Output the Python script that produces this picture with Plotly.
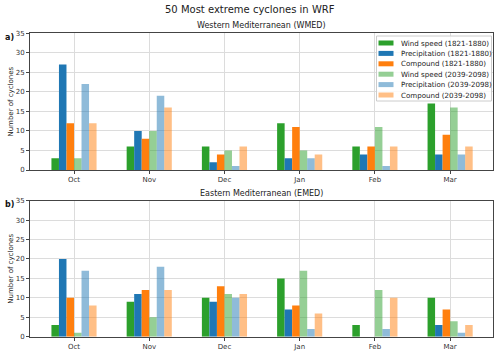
import plotly.graph_objects as go

months = ["Oct", "Nov", "Dec", "Jan", "Feb", "Mar"]
series_names = ["Wind speed (1821-1880)", "Precipitation (1821-1880)", "Compound (1821-1880)",
                "Wind speed (2039-2098)", "Precipitation (2039-2098)", "Compound (2039-2098)"]
series_colors = ["#2ca02c", "#1f77b4", "#ff7f0e",
                 "rgba(44,160,44,0.5)", "rgba(31,119,180,0.5)", "rgba(255,127,14,0.5)"]

# Western Mediterranean (WMED)
wmed_wind_hist = [3, 6, 6, 12, 6, 17]
wmed_prec_hist = [27, 10, 2, 3, 4, 4]
wmed_comp_hist = [12, 8, 4, 11, 6, 9]
wmed_wind_fut = [3, 10, 5, 5, 11, 16]
wmed_prec_fut = [22, 19, 1, 3, 1, 4]
wmed_comp_fut = [12, 16, 6, 4, 6, 6]

# Eastern Mediterranean (EMED)
emed_wind_hist = [3, 9, 10, 15, 3, 10]
emed_prec_hist = [20, 11, 9, 7, 0, 3]
emed_comp_hist = [10, 12, 13, 8, 0, 7]
emed_wind_fut = [1, 5, 11, 17, 12, 4]
emed_prec_fut = [17, 18, 10, 2, 2, 1]
emed_comp_fut = [8, 12, 11, 6, 10, 3]

yticks = [0, 5, 10, 15, 20, 25, 30, 35]

wmed = [wmed_wind_hist, wmed_prec_hist, wmed_comp_hist, wmed_wind_fut, wmed_prec_fut, wmed_comp_fut]
emed = [emed_wind_hist, emed_prec_hist, emed_comp_hist, emed_wind_fut, emed_prec_fut, emed_comp_fut]

W, H = 500, 354
def px(v):
    return v / W
def py(v):
    return 1 - v / H

fig = go.Figure()
for i in range(6):
    fig.add_trace(go.Bar(x=months, y=wmed[i], name=series_names[i], marker_color=series_colors[i],
                         marker_line_width=0, xaxis="x", yaxis="y", showlegend=False))
for i in range(6):
    fig.add_trace(go.Bar(x=months, y=emed[i], name=series_names[i], marker_color=series_colors[i],
                         marker_line_width=0, xaxis="x2", yaxis="y2", showlegend=False))

axis_common = dict(showline=True, mirror=True, linecolor="#444", linewidth=1,
                   showgrid=True, gridcolor="#dcdcdc", gridwidth=1,
                   ticks="outside", ticklen=3, tickcolor="#444",
                   tickfont=dict(family="DejaVu Sans", size=7, color="#333"),
                   zeroline=False, automargin=False)

xd = [px(30), px(493)]
fig.update_layout(
    width=W, height=H,
    margin=dict(l=0, r=0, t=0, b=0),
    paper_bgcolor="white", plot_bgcolor="white",
    barmode="group", bargap=0.4, bargroupgap=0,
    xaxis=dict(domain=xd, anchor="y", type="category", categoryorder="array",
               categoryarray=months, range=[-0.585, 5.57], **axis_common),
    yaxis=dict(domain=[py(170), py(33.3)], anchor="x", range=[0, 35], tickvals=yticks, **axis_common),
    xaxis2=dict(domain=xd, anchor="y2", type="category", categoryorder="array",
                categoryarray=months, range=[-0.585, 5.57], **axis_common),
    yaxis2=dict(domain=[py(336.7), py(200.7)], anchor="x2", range=[0, 35], tickvals=yticks, **axis_common),
    font=dict(family="DejaVu Sans", color="#222"),
)

ann = [
    dict(text="50 Most extreme cyclones in WRF", x=px(250), y=py(10), font=dict(size=10, color="#222")),
    dict(text="Western Mediterranean (WMED)", x=px(261.5), y=py(26), font=dict(size=8, color="#222")),
    dict(text="Eastern Mediterranean (EMED)", x=px(261.5), y=py(193), font=dict(size=8, color="#222")),
    dict(text="<b>a)</b>", x=px(9.5), y=py(37.5), font=dict(size=8, color="#111")),
    dict(text="<b>b)</b>", x=px(9.5), y=py(204.5), font=dict(size=8, color="#111")),
    dict(text="Number of cyclones", x=px(11), y=py(101.6), textangle=-90, font=dict(size=7, color="#222")),
    dict(text="Number of cyclones", x=px(11), y=py(268.7), textangle=-90, font=dict(size=7, color="#222")),
]
annotations = []
for a in ann:
    a.update(xref="paper", yref="paper", showarrow=False, xanchor="center", yanchor="middle")
    annotations.append(a)

shapes = [dict(type="rect", xref="paper", yref="paper", x0=px(376.5), x1=px(491.5), y0=py(101), y1=py(36),
               fillcolor="rgba(255,255,255,0.85)", line=dict(color="#cccccc", width=1), layer="above")]
for i, name in enumerate(series_names):
    yc = 43 + i * 10.4
    shapes.append(dict(type="rect", xref="paper", yref="paper", x0=px(378.5), x1=px(393.5),
                       y0=py(yc + 2.5), y1=py(yc - 2.5), fillcolor=series_colors[i],
                       line=dict(width=0), layer="above"))
    annotations.append(dict(text=name, xref="paper", yref="paper", x=px(398.5), y=py(yc),
                            xanchor="left", yanchor="middle", showarrow=False,
                            font=dict(size=7.1, color="#222")))

fig.update_layout(annotations=annotations, shapes=shapes)
fig.write_html("out.html", post_script="document.body.style.margin='0';",
               config={"displayModeBar": False})
